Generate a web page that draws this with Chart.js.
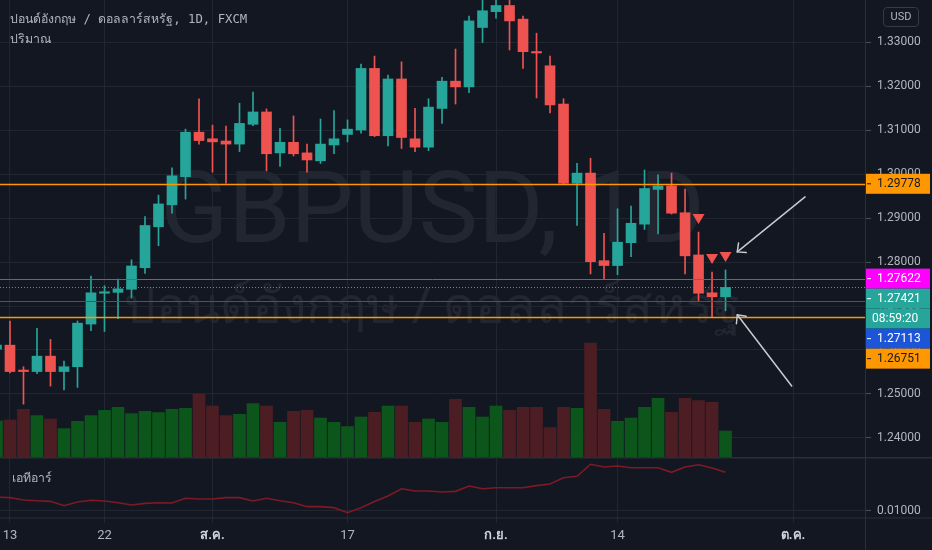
<!DOCTYPE html>
<html><head><meta charset="utf-8">
<script src="https://cdn.jsdelivr.net/npm/chart.js@4.4.1/dist/chart.umd.min.js"></script>
<style>
html,body{margin:0;padding:0;background:#131722;width:932px;height:550px;overflow:hidden;}
#wrap{position:relative;width:932px;height:550px;}
canvas{position:absolute;left:0;z-index:2;}
#cA{top:0;} #cB{top:457px;}
.wm{position:absolute;left:0;width:865px;text-align:center;color:rgba(255,255,255,0.065);white-space:nowrap;z-index:1;line-height:1;}
#wm1{top:149px;font:100px Roboto, sans-serif;}
#wm2{top:266px;font:50px 'Noto Sans', sans-serif;}
.leg{position:absolute;color:#b2b5be;font:12.3px 'DejaVu Sans Mono', monospace;white-space:nowrap;z-index:3;line-height:1;}
#usd{position:absolute;left:883px;top:7px;width:36px;height:20px;box-sizing:border-box;border:1px solid #363a45;border-radius:4px;color:#b2b5be;font:11px Roboto, sans-serif;text-align:center;line-height:18px;z-index:3;}
</style></head>
<body><div id="wrap">
<div class="wm" id="wm1">GBPUSD, 1D</div>
<div class="wm" id="wm2">ปอนด์อังกฤษ / ดอลลาร์สหรัฐ</div>
<canvas id="cA" width="932" height="457"></canvas>
<canvas id="cB" width="932" height="93"></canvas>
<div class="leg" id="leg1" style="left:10px;top:13px;">ปอนด์อังกฤษ / ดอลลาร์สหรัฐ, 1D, FXCM</div>
<div class="leg" id="leg2" style="left:10px;top:33px;">ปริมาณ</div>
<div class="leg" id="leg3" style="left:12px;top:472px;">เอทีอาร์</div>
<div id="usd">USD</div>
</div>
<script>
// ---------- data (GBPUSD daily, FXCM) ----------
const dates = ['2020-07-10','2020-07-13','2020-07-14','2020-07-15','2020-07-16','2020-07-17',
 '2020-07-20','2020-07-21','2020-07-22','2020-07-23','2020-07-24',
 '2020-07-27','2020-07-28','2020-07-29','2020-07-30','2020-07-31',
 '2020-08-03','2020-08-04','2020-08-05','2020-08-06','2020-08-07',
 '2020-08-10','2020-08-11','2020-08-12','2020-08-13','2020-08-14',
 '2020-08-17','2020-08-18','2020-08-19','2020-08-20','2020-08-21',
 '2020-08-24','2020-08-25','2020-08-26','2020-08-27','2020-08-28',
 '2020-08-31','2020-09-01','2020-09-02','2020-09-03','2020-09-04',
 '2020-09-07','2020-09-08','2020-09-09','2020-09-10','2020-09-11',
 '2020-09-14','2020-09-15','2020-09-16','2020-09-17','2020-09-18',
 '2020-09-21','2020-09-22','2020-09-23','2020-09-24'];
const opens  = [1.2602,1.2611,1.2554,1.2551,1.2586,1.2551,1.2562,1.2659,1.2729,1.2731,1.2738,
 1.2787,1.2880,1.2930,1.2994,1.3095,1.3080,1.3075,1.3068,1.3113,1.3141,1.3048,1.3072,1.3048,1.3030,1.3066,
 1.3090,1.3100,1.3240,1.3087,1.3216,1.3080,1.3061,1.3149,1.3211,1.3198,1.3333,1.3369,1.3383,1.3352,1.3278,
 1.3246,1.3159,1.2979,1.3002,1.2803,1.2792,1.2844,1.2886,1.2965,1.2973,1.2912,1.2816,1.2730,1.2721];
const highs  = [1.2630,1.2666,1.2562,1.2649,1.2624,1.2575,1.2666,1.2768,1.2746,1.2761,1.2805,
 1.2903,1.2952,1.3014,1.3102,1.3171,1.3111,1.3109,1.3161,1.3186,1.3148,1.3104,1.3132,1.3068,1.3125,1.3144,
 1.3123,1.3250,1.3268,1.3225,1.3255,1.3149,1.3171,1.3220,1.3284,1.3359,1.3405,1.3482,1.3410,1.3359,1.3320,
 1.3268,1.3171,1.3024,1.3036,1.2865,1.2921,1.2927,1.3009,1.2998,1.3002,1.2966,1.2868,1.2777,1.2782];
const lows   = [1.2585,1.2548,1.2477,1.2546,1.2518,1.2509,1.2515,1.2644,1.2642,1.2671,1.2718,
 1.2774,1.2837,1.2911,1.2943,1.3068,1.3004,1.2979,1.3051,1.3110,1.3007,1.3017,1.3041,1.3004,1.3024,1.3046,
 1.3073,1.3093,1.3085,1.3064,1.3058,1.3051,1.3053,1.3115,1.3159,1.3185,1.3299,1.3354,1.3282,1.3240,1.3173,
 1.3139,1.2977,1.2883,1.2773,1.2761,1.2771,1.2812,1.2874,1.2864,1.2909,1.2773,1.2710,1.2675,1.2689];
const closes = [1.2611,1.2551,1.2551,1.2586,1.2551,1.2562,1.2661,1.2730,1.2731,1.2739,1.2791,
 1.2883,1.2932,1.2996,1.3095,1.3076,1.3073,1.3068,1.3115,1.3141,1.3046,1.3072,1.3046,1.3032,1.3068,1.3080,
 1.3102,1.3240,1.3087,1.3216,1.3083,1.3061,1.3152,1.3211,1.3198,1.3348,1.3371,1.3383,1.3348,1.3278,1.3275,
 1.3157,1.2979,1.3002,1.2801,1.2792,1.2845,1.2888,1.2967,1.2973,1.2911,1.2814,1.2729,1.2721,1.27421];
const volumes = [180000,185000,238500,207000,190000,142000,178500,207000,233500,248500,217000,
 228500,222000,238500,243500,313500,255000,207000,213500,267000,255000,173500,228500,233500,195000,173500,
 152000,200000,223500,255000,255000,173500,190000,173500,288500,248500,200000,255000,233500,248500,248500,
 147000,248500,243500,570000,238500,178500,195000,248500,293500,223500,293500,282000,273500,130000];
const atr = [0.01113,0.01108,0.01089,0.01083,0.01078,0.01043,0.01073,0.01087,0.01081,0.01067,0.01049,
 0.01062,0.01067,0.01065,0.01103,0.01097,0.01097,0.01108,0.01108,0.01081,0.01103,0.01083,0.01067,0.01035,0.01035,0.01027,
 0.00986,0.01027,0.01077,0.01121,0.01180,0.01162,0.01162,0.01154,0.01159,0.01202,0.01180,0.01188,0.01188,0.01188,0.01205,
 0.01218,0.01269,0.01281,0.01378,0.01356,0.01364,0.01350,0.01350,0.01350,0.01313,0.01356,0.01374,0.01348,0.01313];
const priceTicks = [1.24,1.25,1.26,1.27,1.28,1.29,1.30,1.31,1.32,1.33];
const atrTicks = [0.01];
const xTickIdx = [1,8,16,26,37,46,59];
const xTickText = ['13','22','ส.ค.','17','ก.ย.','14','ต.ค.'];
const xTickMonth = [false,false,true,false,true,false,true];
const levelValues = [1.29778,1.27622,1.27113,1.26751];
const levelColors = ['#ff9800','#ff00ff','#1c55d8','#ff9800'];
const levelText   = ['#131722','#ffffff','#ffffff','#131722'];
const countdown = '08:59:20';
const signalIdx = [52,53,54];
const arrowFrom = [[59.89,1.2948],[58.90,1.2518]];
const arrowTo   = [[54.87,1.2823],[54.87,1.2680]];

// ---------- style ----------
const UP='#26a69a', DOWN='#ef5350', VUP='#0d561b', VDOWN='#4c1e24';
const GRID='#222631', TXT='#b2b5be', SEP='#2a2e39';
Chart.defaults.font.family = "Roboto, 'Liberation Sans', sans-serif";
Chart.defaults.font.size = 12;
Chart.defaults.color = TXT;
const X_MIN = 0.26, X_MAX = 64.33;
const AXIS_W = 67;
const idx = dates.map((d,i)=>i);
const isUp = i => closes[i] >= opens[i];
const tickK = c => (c && c.tick) ? xTickIdx.indexOf(c.tick.value) : -1;

const xTicksFn = s => { s.ticks = xTickIdx.map(v=>({value:v})); };
const fitY = s => { s.width = AXIS_W; s.paddingTop = 0; s.paddingBottom = 0; };

const paneA = {
  id:'paneA',
  afterDatasetsDraw(chart){
    const {ctx, chartArea:a, scales} = chart; const x=scales.x, y=scales.y;
    ctx.save();
    ctx.beginPath(); ctx.rect(a.left,a.top,a.right-a.left,a.bottom-a.top); ctx.clip();
    levelValues.forEach((v,i)=>{
      const py = Math.round(y.getPixelForValue(v))+0.5;
      ctx.strokeStyle=levelColors[i]; ctx.lineWidth = (i===0||i===3)?1.5:1; ctx.setLineDash([]);
      ctx.beginPath(); ctx.moveTo(a.left,py); ctx.lineTo(a.right,py); ctx.stroke();
    });
    const last = closes[closes.length-1];
    const pc = Math.round(y.getPixelForValue(last))+0.5;
    ctx.strokeStyle=UP; ctx.lineWidth=1; ctx.setLineDash([1,2]);
    ctx.beginPath(); ctx.moveTo(a.left,pc); ctx.lineTo(a.right,pc); ctx.stroke();
    ctx.setLineDash([]);
    ctx.fillStyle=DOWN;
    signalIdx.forEach(j=>{
      const px=x.getPixelForValue(j), tip=y.getPixelForValue(highs[j])-8;
      ctx.beginPath(); ctx.moveTo(px-6,tip-10); ctx.lineTo(px+6,tip-10); ctx.lineTo(px,tip); ctx.closePath(); ctx.fill();
    });
    ctx.strokeStyle='#c9cbd1'; ctx.lineWidth=1.5; ctx.lineCap='round';
    arrowFrom.forEach((f,k)=>{
      const t=arrowTo[k];
      const x1=x.getPixelForValue(f[0]), y1=y.getPixelForValue(f[1]);
      const x2=x.getPixelForValue(t[0]), y2=y.getPixelForValue(t[1]);
      ctx.beginPath(); ctx.moveTo(x1,y1); ctx.lineTo(x2,y2); ctx.stroke();
      const ang=Math.atan2(y1-y2,x1-x2), L=9;
      ctx.beginPath();
      ctx.moveTo(x2+L*Math.cos(ang+0.75), y2+L*Math.sin(ang+0.75)); ctx.lineTo(x2,y2);
      ctx.lineTo(x2+L*Math.cos(ang-0.75), y2+L*Math.sin(ang-0.75)); ctx.stroke();
    });
    ctx.restore();
  },
  afterDraw(chart){
    const {ctx, chartArea:a, scales} = chart; const y=scales.y;
    const last = closes[closes.length-1];
    const items = levelValues.map((v,i)=>({v, bg:levelColors[i], fg:levelText[i], rows:[v.toFixed(5)]}));
    items.push({v:last, bg:UP, fg:'#ffffff', rows:[last.toFixed(5), countdown]});
    items.sort((p,q)=>q.v-p.v);
    let prev=-1e9; const H=20;
    ctx.save();
    ctx.font = "12px Roboto, 'Liberation Sans', sans-serif"; ctx.textBaseline='middle';
    items.forEach(it=>{
      let top = y.getPixelForValue(it.v)-H/2;
      if (top<prev) top=prev;
      it.rows.forEach((t,k)=>{
        const ry = top+k*H;
        ctx.fillStyle=it.bg; ctx.fillRect(a.right+1, ry, 64, H);
        ctx.fillStyle=it.fg;
        if (k===0){ ctx.fillRect(a.right+2, ry+H/2-0.5, 4, 1); ctx.fillText(t, a.right+12, ry+H/2+0.5); }
        else ctx.fillText(t, a.right+7, ry+H/2+0.5);
      });
      prev = top+H*it.rows.length;
    });
    ctx.restore();
  }
};

new Chart(document.getElementById('cA'), {
  type:'bar',
  data:{ datasets:[
    { label:'body', order:1, data: idx.map(i=>({x:i, y:[opens[i], closes[i]]})),
      backgroundColor: idx.map(i=>isUp(i)?UP:DOWN), barThickness:10, minBarLength:1.5, grouped:false, yAxisID:'y' },
    { label:'wick', order:2, data: idx.map(i=>({x:i, y:[lows[i], highs[i]]})),
      backgroundColor: idx.map(i=>isUp(i)?UP:DOWN), barThickness:1, grouped:false, yAxisID:'y' },
    { label:'volume', order:3, data: idx.map(i=>({x:i, y:volumes[i]})),
      backgroundColor: idx.map(i=>isUp(i)?VUP:VDOWN), barThickness:12, grouped:false, yAxisID:'yVol' }
  ]},
  options:{
    responsive:false, animation:false, events:[],
    layout:{padding:0, autoPadding:false},
    plugins:{legend:{display:false}, tooltip:{enabled:false}},
    scales:{
      x:{ type:'linear', min:X_MIN, max:X_MAX, offset:false, afterBuildTicks:xTicksFn,
          afterFit:s=>{s.height=0; s.paddingLeft=0; s.paddingRight=0;},
          ticks:{display:false}, grid:{color:GRID, drawTicks:false, offset:false}, border:{display:false} },
      y:{ type:'linear', position:'right', min:1.23568, max:1.33955,
          afterBuildTicks:s=>{ s.ticks = priceTicks.map(v=>({value:v})); },
          afterFit:fitY,
          ticks:{ callback:v=>Number(v).toFixed(5), padding:6, color:TXT, font:{size:12} },
          grid:{ color:GRID, tickColor:'#4a4e59', tickLength:6 }, border:{display:true, color:SEP} },
      yVol:{ type:'linear', position:'right', display:false, min:0, max:2285000 }
    }
  },
  plugins:[paneA]
});

const paneB = {
  id:'paneB',
  afterDraw(chart){
    const {ctx, chartArea:a, width, height} = chart;
    ctx.save(); ctx.fillStyle=SEP;
    ctx.fillRect(0,0,width,1.5);
    ctx.fillRect(0,a.bottom-0.5,width,1);
    ctx.fillRect(a.right,0,1,height);
    ctx.restore();
  }
};

new Chart(document.getElementById('cB'), {
  type:'line',
  data:{ datasets:[
    { label:'ATR', data: idx.map(i=>({x:i, y:atr[i]})), borderColor:'#7e1a24', borderWidth:1.6,
      pointRadius:0, tension:0, yAxisID:'y' }
  ]},
  options:{
    responsive:false, animation:false, events:[],
    layout:{padding:0, autoPadding:false},
    plugins:{legend:{display:false}, tooltip:{enabled:false}},
    scales:{
      x:{ type:'linear', min:X_MIN, max:X_MAX, offset:false, afterBuildTicks:xTicksFn,
          afterFit:s=>{s.height=32; s.paddingLeft=0; s.paddingRight=0;},
          ticks:{ autoSkip:false, maxRotation:0, padding:5,
            callback:v=>{ const k=xTickIdx.indexOf(v); return k<0?'':xTickText[k]; },
            color:c=>{ const k=tickK(c); return (k>=0&&xTickMonth[k])?'#d1d4dc':TXT; },
            font:c=>{ const k=tickK(c); return {size:13, weight:(k>=0&&xTickMonth[k])?'bold':'normal'}; } },
          grid:{ color:GRID, tickColor:GRID, tickLength:5 }, border:{display:false} },
      y:{ type:'linear', position:'right', min:0.009434, max:0.014366,
          afterBuildTicks:s=>{ s.ticks = atrTicks.map(v=>({value:v})); },
          afterFit:fitY,
          ticks:{ callback:v=>Number(v).toFixed(5), padding:6, color:TXT, font:{size:12} },
          grid:{ color:GRID, tickColor:'#4a4e59', tickLength:6 }, border:{display:false} }
    }
  },
  plugins:[paneB]
});
</script>
</body></html>
